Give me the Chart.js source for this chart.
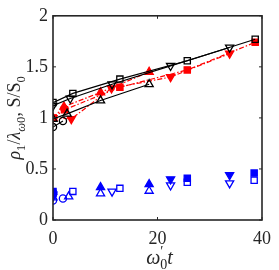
<!DOCTYPE html>
<html lang="en">
<head>
  <meta charset="UTF-8">
  <title>rho1 / S over time</title>
  <script src="https://cdn.jsdelivr.net/npm/chart.js"></script>
  <style>
    body { margin: 0; background: #fff; }
    canvas { display: block; }
  </style>
</head>
<body>
  <canvas id="chart" width="279" height="270"></canvas>

  <script>
    // axis ticks
    const xTicks = [0, 20, 40];
    const yTicks = [0, 0.5, 1, 1.5, 2];

    // black, open markers, solid line
    const blkSquareX = [0, 3.8, 12.8, 25.7, 38.7];
    const blkSquareY = [1.15, 1.24, 1.38, 1.56, 1.77];
    const blkDownX = [0, 3.3, 11.3, 22.5, 33.8];
    const blkDownY = [1.12, 1.19, 1.33, 1.51, 1.69];
    const blkUpX = [0, 2.7, 9.1, 18.4];
    const blkUpY = [0.99, 1.04, 1.17, 1.33];
    const blkCircX = [0, 1.9];
    const blkCircY = [0.91, 0.97];

    // red, filled markers, dash-dot line
    const redSquareX = [0, 2.2, 12.8, 25.7, 38.7];
    const redSquareY = [1.0, 1.08, 1.30, 1.47, 1.74];
    const redDownX = [0, 3.5, 11.2, 22.5, 33.8];
    const redDownY = [1.0, 0.99, 1.29, 1.40, 1.63];
    const redUpX = [0, 2.1, 9.1, 18.4];
    const redUpY = [1.0, 1.11, 1.25, 1.45];

    // blue, no line
    const bluSquareOpenX = [0, 3.8, 12.8, 25.7, 38.5];
    const bluSquareOpenY = [0.26, 0.28, 0.31, 0.37, 0.39];
    const bluSquareFillX = [0, 25.7, 38.5];
    const bluSquareFillY = [0.28, 0.41, 0.46];
    const bluDownOpenX = [0, 11.3, 22.5, 33.8];
    const bluDownOpenY = [0.23, 0.28, 0.34, 0.36];
    const bluDownFillX = [0, 22.5, 33.8];
    const bluDownFillY = [0.25, 0.40, 0.44];
    const bluUpOpenX = [0, 3.0, 9.1, 18.4];
    const bluUpOpenY = [0.22, 0.23, 0.26, 0.285];
    const bluUpFillX = [9.1, 18.4];
    const bluUpFillY = [0.32, 0.35];
    const bluCircX = [0, 1.9];
    const bluCircY = [0.19, 0.21];

    const FONT = '"Liberation Serif", "DejaVu Serif", serif';
    const AXIS = '#262626';

    function pts(xs, ys) {
      return xs.map((x, i) => ({ x: x, y: ys[i] }));
    }

    function series(xs, ys, color, shape, filled, line, dash) {
      const down = shape === 'down';
      return {
        data: pts(xs, ys),
        showLine: line,
        borderColor: color,
        borderWidth: 1.2,
        borderDash: dash || [],
        pointStyle: shape === 'square' ? 'rect' : (shape === 'circle' ? 'circle' : 'triangle'),
        pointRotation: down ? 180 : 0,
        pointRadius: shape === 'square' ? 4.4 : (shape === 'circle' ? 3.6 : 4.7),
        pointBorderColor: color,
        pointBorderWidth: 1.3,
        pointBackgroundColor: filled ? color : 'rgba(255,255,255,0)'
      };
    }

    const RED_DASH = [5, 2, 1.5, 2];

    // draws text with sub/superscripts, centred on x
    function drawRich(ctx, parts, cx, baseY, size) {
      let widths = [];
      let total = 0;
      parts.forEach(p => {
        const s = (p.sub || p.sup) ? size * 0.7 : size;
        ctx.font = (p.it ? 'italic ' : '') + s + 'px ' + FONT;
        const w = p.noAdvance ? 0 : ctx.measureText(p.t).width;
        widths.push(w);
        total += w;
      });
      let x = cx - total / 2;
      parts.forEach((p, i) => {
        const s = (p.sub || p.sup) ? size * 0.7 : size;
        ctx.font = (p.it ? 'italic ' : '') + s + 'px ' + FONT;
        let dy = 0;
        if (p.sub) dy = size * 0.25;
        if (p.sup) dy = -size * 0.38;
        ctx.fillText(p.t, x, baseY + dy);
        x += widths[i];
      });
    }

    const frame = {
      id: 'frame',
      afterDraw(chart) {
        const ctx = chart.ctx;
        const a = chart.chartArea;
        const sx = chart.scales.x;
        const sy = chart.scales.y;
        ctx.save();
        ctx.strokeStyle = AXIS;
        ctx.lineWidth = 1.6;
        ctx.strokeRect(a.left, a.top, a.right - a.left, a.bottom - a.top);
        ctx.lineWidth = 1;
        const t = 3;
        xTicks.forEach(v => {
          const px = sx.getPixelForValue(v);
          ctx.beginPath();
          ctx.moveTo(px, a.bottom); ctx.lineTo(px, a.bottom - t);
          ctx.moveTo(px, a.top); ctx.lineTo(px, a.top + t);
          ctx.stroke();
        });
        yTicks.forEach(v => {
          const py = sy.getPixelForValue(v);
          ctx.beginPath();
          ctx.moveTo(a.left, py); ctx.lineTo(a.left + t, py);
          ctx.moveTo(a.right, py); ctx.lineTo(a.right - t, py);
          ctx.stroke();
        });

        ctx.fillStyle = AXIS;
        ctx.textBaseline = 'alphabetic';
        ctx.textAlign = 'left';
        // x axis title
        drawRich(ctx, [
          { t: 'ω', it: true },
          { t: '′', sup: true, noAdvance: true },
          { t: '0', sub: true },
          { t: 't', it: true }
        ], (a.left + a.right) / 2 + 2, 264, 20);

        // y axis title
        ctx.translate(20, (a.top + a.bottom) / 2);
        ctx.rotate(-Math.PI / 2);
        drawRich(ctx, [
          { t: 'ρ', it: true },
          { t: '1', sub: true },
          { t: '/' },
          { t: 'λ', it: true },
          { t: 'ω', sub: true, it: true },
          { t: '0', sub: true },
          { t: ', ' },
          { t: 'S' },
          { t: '/' },
          { t: 'S' },
          { t: '0', sub: true }
        ], 0, 0, 18);
        ctx.restore();
      }
    };

    const ctx = document.getElementById('chart').getContext('2d');
    const chart = new Chart(ctx, {
      type: 'scatter',
      data: {
        datasets: [
          series(blkSquareX, blkSquareY, '#000', 'square', false, true),
          series(blkDownX, blkDownY, '#000', 'down', false, true),
          series(blkUpX, blkUpY, '#000', 'up', false, true),
          series(blkCircX, blkCircY, '#000', 'circle', false, true),
          series(redSquareX, redSquareY, '#ff0000', 'square', true, true, RED_DASH),
          series(redDownX, redDownY, '#ff0000', 'down', true, true, RED_DASH),
          series(redUpX, redUpY, '#ff0000', 'up', true, true, RED_DASH),
          series(bluSquareOpenX, bluSquareOpenY, '#0000ff', 'square', false, false),
          series(bluSquareFillX, bluSquareFillY, '#0000ff', 'square', true, false),
          series(bluDownOpenX, bluDownOpenY, '#0000ff', 'down', false, false),
          series(bluDownFillX, bluDownFillY, '#0000ff', 'down', true, false),
          series(bluUpOpenX, bluUpOpenY, '#0000ff', 'up', false, false),
          series(bluUpFillX, bluUpFillY, '#0000ff', 'up', true, false),
          series(bluCircX, bluCircY, '#0000ff', 'circle', false, false)
        ]
      },
      options: {
        responsive: false,
        animation: false,
        devicePixelRatio: 1,
        layout: { padding: { top: 6, right: 11, left: 0, bottom: 0 } },
        plugins: {
          legend: { display: false },
          tooltip: { enabled: false }
        },
        scales: {
          x: {
            type: 'linear',
            min: 0,
            max: 40,
            afterBuildTicks: s => { s.ticks = xTicks.map(v => ({ value: v })); },
            afterFit: s => { s.height = 50; },
            grid: { display: false, drawTicks: false },
            border: { display: false },
            ticks: { color: AXIS, padding: 8, maxRotation: 0, font: { family: FONT, size: 18 },
                     callback: v => String(v) }
          },
          y: {
            min: 0,
            max: 2,
            afterBuildTicks: s => { s.ticks = yTicks.map(v => ({ value: v })); },
            afterFit: s => { s.width = 53; },
            grid: { display: false, drawTicks: false },
            border: { display: false },
            ticks: { color: AXIS, padding: 5, font: { family: FONT, size: 18 },
                     callback: v => String(v) }
          }
        }
      },
      plugins: [frame]
    });
  </script>
</body>
</html>
